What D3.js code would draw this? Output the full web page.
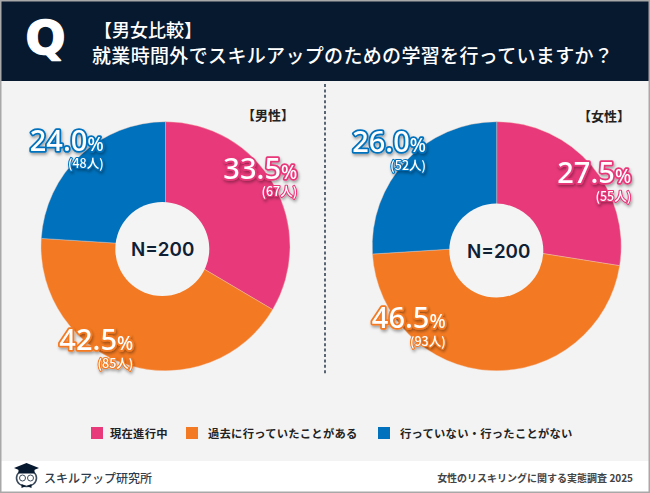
<!DOCTYPE html>
<html><head><meta charset="utf-8">
<script src="https://cdn.jsdelivr.net/npm/d3@7"></script>
<style>
html,body{margin:0;padding:0;background:#fff}
svg{display:block}
text{font-family:"Noto Sans CJK JP","Noto Sans",sans-serif}
</style></head><body>
<script>
const categories = ["現在進行中","過去に行っていたことがある","行っていない・行ったことがない"];
const malePercent = [33.5,42.5,24.0];
const maleCount = [67,85,48];
const femalePercent = [27.5,46.5,26.0];
const femaleCount = [55,93,52];
const groupNames = ["【男性】","【女性】"];
const titleLines = ["【男女比較】","就業時間外でスキルアップのための学習を行っていますか？"];
const sampleLabel = "N=200";
const colors = ["#e8397a","#f37a22","#0071bc"];

const W=650,H=493;
const svg=d3.select("body").append("svg").attr("width",W).attr("height",H).attr("viewBox",`0 0 ${W} ${H}`);
const defs=svg.append("defs");
const f=defs.append("filter").attr("id","sh").attr("x","-20%").attr("y","-30%").attr("width","140%").attr("height","170%");
f.append("feDropShadow").attr("dx",1).attr("dy",2).attr("stdDeviation",1.6).attr("flood-color","#000").attr("flood-opacity",.35);

svg.append("rect").attr("width",W).attr("height",H).attr("fill","#fff");
svg.append("rect").attr("y",81).attr("width",W).attr("height",380).attr("fill","#f3f3f3");
svg.append("rect").attr("width",W).attr("height",81).attr("fill","#07192e");
svg.append("rect").attr("x",.75).attr("y",.75).attr("width",W-1.5).attr("height",H-1.5).attr("fill","none").attr("stroke","#a8a8a8").attr("stroke-width",1.5);

// Header
svg.append("text").attr("x",45.5).attr("y",54).attr("text-anchor","middle").attr("font-size",47).attr("font-weight",700)
  .attr("fill","#fff").attr("stroke","#fff").attr("stroke-width",1.6).attr("stroke-linejoin","round")
  .style("font-family","'DejaVu Sans',sans-serif").text("Q");
svg.append("text").attr("x",94).attr("y",37).attr("font-size",18).attr("font-weight",500).attr("fill","#fff").text(titleLines[0]);
svg.append("text").attr("x",92).attr("y",63).attr("font-size",19).attr("font-weight",500).attr("fill","#fff").attr("letter-spacing",.34).text(titleLines[1]);

// Divider
svg.append("line").attr("x1",325).attr("x2",325).attr("y1",84).attr("y2",374)
  .attr("stroke","#07192e").attr("stroke-width",1.3).attr("stroke-dasharray","3 2.4");

const pie=d3.pie().sort(null).value(d=>d);
const R=124.5,r0=47;
const arc=d3.arc().innerRadius(0).outerRadius(R);
const centroidArc=d3.arc().innerRadius(86).outerRadius(86);

function donut(cx,cy,hole,values,counts,nudges,name,nameX,nameY){
  const g=svg.append("g").attr("transform",`translate(${cx},${cy})`);
  const arcs=pie(values);
  g.selectAll("path").data(arcs).join("path").attr("d",arc).attr("fill",(d,i)=>colors[i]).attr("stroke","#f3c9b8").attr("stroke-width",.4);
  g.append("circle").attr("cx",hole.x).attr("cy",hole.y).attr("r",r0).attr("fill","#f4f4f4");
  g.append("text").attr("x",hole.tx).attr("y",hole.ty).attr("text-anchor","middle").attr("font-size",18.8).attr("font-weight",600).attr("fill","#0f2034")
    .style("font-family","Inter,'Noto Sans',sans-serif").text(sampleLabel);
  const labels=g.selectAll("g.l").data(arcs).join("g").attr("class","l").attr("filter","url(#sh)")
    .attr("transform",(d,i)=>{const c=centroidArc.centroid(d);return `translate(${c[0]+nudges[i][0]},${c[1]+nudges[i][1]})`;});
  const pct=labels.append("text").attr("text-anchor","end").attr("fill","#fff").attr("stroke",(d,i)=>colors[i])
    .attr("stroke-width",3.6).attr("stroke-linejoin","round").attr("paint-order","stroke").style("font-family","'Noto Sans',sans-serif");
  pct.append("tspan").attr("font-size",29).attr("font-weight",500).text((d,i)=>values[i].toFixed(1));
  pct.append("tspan").attr("font-size",19).attr("font-weight",500).text("%");
  labels.append("text").attr("y",17.5).attr("text-anchor","end").attr("font-size",12.5).attr("font-weight",500).attr("fill","#fff")
    .attr("stroke",(d,i)=>colors[i]).attr("stroke-width",2.2).attr("stroke-linejoin","round").attr("paint-order","stroke")
    .text((d,i)=>`(${counts[i]}人)`);
  svg.append("text").attr("x",nameX).attr("y",nameY).attr("text-anchor","middle").attr("font-size",13).attr("font-weight",700).attr("fill","#222").text(name);
}
donut(165.5,246.2,{x:-3.2,y:2.8,tx:-2.9,ty:9.8},malePercent,maleCount,[[57,-25],[-7,22],[-3,-33]],groupNames[0],268,119.5);
donut(496.7,246.2,{x:-.4,y:4.4,tx:2,ty:12},femalePercent,femaleCount,[[69,-7],[-47,-4],[-8,-35]],groupNames[1],604,120.5);

// Legend
const legendX=[91,186,378];
const lg=svg.selectAll("g.leg").data(categories).join("g").attr("class","leg").attr("transform",(d,i)=>`translate(${legendX[i]},427)`);
lg.append("rect").attr("width",12).attr("height",12).attr("fill",(d,i)=>colors[i]);
lg.append("text").attr("x",(d,i)=>[19,22,22][i]).attr("y",10.5).attr("font-size",11.3).attr("font-weight",700).attr("fill","#222").attr("letter-spacing",.25).text(d=>d);

// Footer
const logo=svg.append("g").attr("transform","translate(26.5,477)");
logo.append("ellipse").attr("cy",1).attr("rx",10).attr("ry",8.5).attr("fill","#fff").attr("stroke","#3b4a5c").attr("stroke-width",1.6);
logo.append("path").attr("d","M-12.5,-9 L0,-14 L12.5,-9 L0,-4 Z").attr("fill","#07192e");
logo.append("rect").attr("x",-8).attr("y",-8).attr("width",16).attr("height",4.5).attr("fill","#07192e");
logo.append("circle").attr("cx",-4).attr("cy",1).attr("r",3).attr("fill","#fff").attr("stroke","#3b4a5c");
logo.append("circle").attr("cx",4).attr("cy",1).attr("r",3).attr("fill","#fff").attr("stroke","#3b4a5c");
logo.append("path").attr("d","M-5,11 L0,9 L5,11 L5,7 L0,9 L-5,7 Z").attr("fill","#07192e");
svg.append("text").attr("x",44).attr("y",483).attr("font-size",12).attr("font-weight",500).attr("fill","#2f3b4a").text("スキルアップ研究所");
svg.append("text").attr("x",633).attr("y",482).attr("text-anchor","end").attr("font-size",10).attr("font-weight",700).attr("fill","#444").text("女性のリスキリングに関する実態調査 2025");
</script>
</body></html>
